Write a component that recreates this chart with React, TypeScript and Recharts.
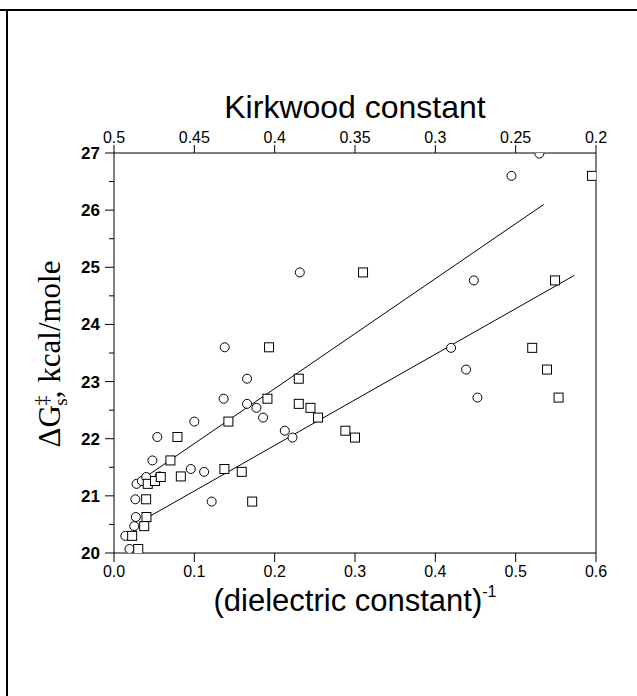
import { ReferenceLine, Scatter, ScatterChart, XAxis, YAxis, Label } from 'recharts';

// circles: free energy vs inverse dielectric constant (bottom axis)
const INV_DIELECTRIC = [
  0.0193, 0.0141, 0.0252, 0.0272, 0.0266, 0.0281, 0.0347, 0.0401, 0.0567, 0.0478,
  0.0539, 0.0956, 0.1122, 0.1216, 0.1, 0.1365, 0.1378, 0.1656, 0.1656, 0.1773,
  0.1856, 0.2126, 0.2222, 0.2313, 0.4196, 0.4383, 0.4524, 0.4479, 0.4948, 0.5295,
];
const DG_CIRCLES = [
  20.07, 20.3, 20.47, 20.63, 20.94, 21.21, 21.26, 21.33, 21.34, 21.62,
  22.03, 21.47, 21.42, 20.9, 22.3, 22.7, 23.6, 23.05, 22.61, 22.54,
  22.37, 22.14, 22.02, 24.91, 23.59, 23.21, 22.72, 24.77, 26.6, 26.99,
];

// squares: same energies vs Kirkwood constant (top axis)
const KIRKWOOD = [
  0.4849, 0.4887, 0.4812, 0.4798, 0.48, 0.479, 0.4745, 0.4709, 0.4584, 0.4649,
  0.4605, 0.4313, 0.4205, 0.414, 0.4288, 0.4045, 0.4035, 0.385, 0.385, 0.3777,
  0.373, 0.356, 0.35, 0.345, 0.2397, 0.2305, 0.2233, 0.2255, 0.2025,
];
const DG_SQUARES = [
  20.07, 20.3, 20.47, 20.63, 20.94, 21.21, 21.26, 21.33, 21.34, 21.62,
  22.03, 21.47, 21.42, 20.9, 22.3, 22.7, 23.6, 23.05, 22.61, 22.54,
  22.37, 22.14, 22.02, 24.91, 23.59, 23.21, 22.72, 24.77, 26.6,
];

// regression lines (end points)
const FIT_CIRCLES_X = [0.034, 0.535];
const FIT_CIRCLES_Y = [21.28, 26.1];
const FIT_SQUARES_K = [0.4779, 0.2134];
const FIT_SQUARES_Y = [20.64, 24.86];

const BOTTOM_TICKS = [0, 0.1, 0.2, 0.3, 0.4, 0.5, 0.6];
const TOP_TICKS = [0.5, 0.45, 0.4, 0.35, 0.3, 0.25, 0.2];
const LEFT_TICKS = [20, 20.5, 21, 21.5, 22, 22.5, 23, 23.5, 24, 24.5, 25, 25.5, 26, 26.5, 27];

const circles = INV_DIELECTRIC.map((x, i) => ({ x, y: DG_CIRCLES[i] }));
const squares = KIRKWOOD.map((x, i) => ({ x, y: DG_SQUARES[i] }));
const fitCircles = FIT_CIRCLES_X.map((x, i) => ({ x, y: FIT_CIRCLES_Y[i] }));
const fitSquares = FIT_SQUARES_K.map((x, i) => ({ x, y: FIT_SQUARES_Y[i] }));

const W = 637;
const H = 696;
const MARGIN = { top: 113, right: 41, bottom: 103, left: 54 };
const Y_AXIS_W = 60;
const X_AXIS_H = 40;
// plot box, used to clip markers sitting on the frame
const PLOT = {
  x: MARGIN.left + Y_AXIS_W,
  y: MARGIN.top + X_AXIS_H,
  w: W - MARGIN.left - Y_AXIS_W - MARGIN.right,
  h: H - MARGIN.top - MARGIN.bottom - 2 * X_AXIS_H,
};

const SANS = 'Arial, "Liberation Sans", sans-serif';
const SERIF = '"Times New Roman", "Liberation Serif", serif';

function CircleMark({ cx, cy }: { cx?: number; cy?: number }) {
  return (
    <g clipPath="url(#plot-clip)">
      <circle cx={cx} cy={cy} r={4.5} fill="#fff" stroke="#000" strokeWidth={1} />
    </g>
  );
}

function SquareMark({ cx, cy }: { cx?: number; cy?: number }) {
  return (
    <g clipPath="url(#plot-clip)">
      <rect x={(cx ?? 0) - 4.5} y={(cy ?? 0) - 4.5} width={9} height={9} fill="#fff" stroke="#000" strokeWidth={1} />
    </g>
  );
}

function NoMark() {
  return <g />;
}

function LeftTick({ x, y, payload }: { x?: number; y?: number; payload?: { value: number } }) {
  const v = payload?.value ?? 0;
  const major = Number.isInteger(v);
  const px = x ?? 0;
  const py = y ?? 0;
  return (
    <g>
      <line x1={px - (major ? 9 : 5)} x2={px} y1={py} y2={py} stroke="#000" />
      {major && (
        <text x={px - 14} y={py + 6} textAnchor="end" fontSize={17} fontWeight="bold" fontFamily={SANS} fill="#000">
          {v}
        </text>
      )}
    </g>
  );
}

export default function App() {
  return (
    <div style={{ position: 'absolute', left: 0, top: 0, width: W, height: H, background: '#fff' }}>
      <svg width={0} height={0} style={{ position: 'absolute' }}>
        <defs>
          <clipPath id="plot-clip" clipPathUnits="userSpaceOnUse">
            <rect x={PLOT.x} y={PLOT.y} width={PLOT.w} height={PLOT.h} />
          </clipPath>
        </defs>
      </svg>
      <div style={{ position: 'absolute', left: 0, top: 9, width: W, height: 0, borderTop: '2px solid #000' }} />
      <div style={{ position: 'absolute', left: 6, top: 9, width: 0, height: H - 9, borderLeft: '2px solid #000' }} />
      <div style={{ position: 'absolute', left: 0, top: 0 }}>
        <ScatterChart width={W} height={H} margin={MARGIN}>
          <XAxis
            xAxisId="bottom"
            type="number"
            dataKey="x"
            orientation="bottom"
            domain={[0, 0.6]}
            ticks={BOTTOM_TICKS}
            allowDataOverflow
            tickFormatter={(v: number) => v.toFixed(1)}
            tick={{ fill: '#000', fontSize: 16, fontFamily: SANS }}
            tickSize={9}
            tickMargin={4}
            height={X_AXIS_H}
            axisLine={{ stroke: '#000' }}
            tickLine={{ stroke: '#000' }}
          >
            <Label
              content={({ viewBox }: any) => (
                <text
                  x={viewBox.x + viewBox.width / 2}
                  y={viewBox.y + 58}
                  textAnchor="middle"
                  fontSize={31}
                  fontFamily={SANS}
                  fill="#000"
                >
                  (dielectric constant)
                  <tspan dy={-14} fontSize={16}>
                    -1
                  </tspan>
                </text>
              )}
            />
          </XAxis>
          <XAxis
            xAxisId="top"
            type="number"
            dataKey="x"
            orientation="top"
            domain={[0.2, 0.5]}
            reversed
            ticks={TOP_TICKS}
            allowDataOverflow
            tickFormatter={(v: number) => String(v)}
            tick={{ fill: '#000', fontSize: 16, fontFamily: SANS }}
            tickSize={8}
            tickMargin={2}
            height={X_AXIS_H}
            axisLine={{ stroke: '#000' }}
            tickLine={{ stroke: '#000' }}
          >
            <Label
              content={({ viewBox }: any) => (
                <text
                  x={viewBox.x + viewBox.width / 2}
                  y={viewBox.y + 5}
                  textAnchor="middle"
                  fontSize={32}
                  fontFamily={SANS}
                  fill="#000"
                >
                  Kirkwood constant
                </text>
              )}
            />
          </XAxis>
          <YAxis
            type="number"
            dataKey="y"
            domain={[20, 27]}
            ticks={LEFT_TICKS}
            allowDataOverflow
            interval={0}
            tick={<LeftTick />}
            tickSize={0}
            tickMargin={0}
            tickLine={false}
            width={Y_AXIS_W}
            axisLine={{ stroke: '#000' }}
          >
            <Label
              content={() => (
                <text
                  x={60}
                  y={354}
                  transform="rotate(-90, 60, 354)"
                  textAnchor="middle"
                  fontSize={31}
                  fontFamily={SERIF}
                  fill="#000"
                >
                  ΔG
                  <tspan dy={-12} fontSize={19}>
                    ‡
                  </tspan>
                  <tspan dx={-10} dy={19} fontSize={19}>
                    s
                  </tspan>
                  <tspan dy={-7}>, kcal/mole</tspan>
                </text>
              )}
            />
          </YAxis>
          <ReferenceLine xAxisId="bottom" x={0.6} stroke="#000" />
          <Scatter
            xAxisId="bottom"
            data={fitCircles}
            line={{ stroke: '#000', strokeWidth: 1 }}
            shape={<NoMark />}
            isAnimationActive={false}
          />
          <Scatter
            xAxisId="top"
            data={fitSquares}
            line={{ stroke: '#000', strokeWidth: 1 }}
            shape={<NoMark />}
            isAnimationActive={false}
          />
          <Scatter xAxisId="bottom" data={circles} shape={<CircleMark />} isAnimationActive={false} />
          <Scatter xAxisId="top" data={squares} shape={<SquareMark />} isAnimationActive={false} />
        </ScatterChart>
      </div>
    </div>
  );
}
